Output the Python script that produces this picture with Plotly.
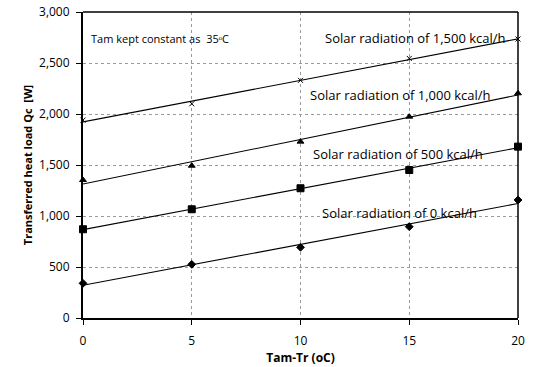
import numpy as np
import plotly.graph_objects as go

# Temperature difference Tam-Tr (oC)
temp_diff = [0, 5, 10, 15, 20]

# Transferred heat load Qc [W] for each solar radiation level
load_0 = [340, 526, 693, 895, 1157]
load_500 = [870, 1066, 1272, 1451, 1680]
load_1000 = [1353, 1493, 1729, 1974, 2203]
load_1500 = [1940, 2100, 2330, 2545, 2735]

series_names = ["Solar radiation of 0 kcal/h", "Solar radiation of 500 kcal/h",
                "Solar radiation of 1,000 kcal/h", "Solar radiation of 1,500 kcal/h"]
series_values = [load_0, load_500, load_1000, load_1500]
series_symbols = ["diamond", "square", "triangle-up", "x-thin"]
series_sizes = [6, 7, 6, 5]

y_ticks = [0, 500, 1000, 1500, 2000, 2500, 3000]
y_tick_text = ["0", "500", "1,000", "1,500", "2,000", "2,500", "3,000"]
x_ticks = [0, 5, 10, 15, 20]

FONT = "Open Sans"

fig = go.Figure()

for name, vals, sym, size in zip(series_names, series_values, series_symbols, series_sizes):
    # linear trend line through each series
    slope, intercept = np.polyfit(temp_diff, vals, 1)
    xs = np.array([temp_diff[0], temp_diff[-1]])
    fig.add_trace(go.Scatter(x=xs, y=slope * xs + intercept, mode="lines",
                             line=dict(color="black", width=1.1),
                             showlegend=False, hoverinfo="skip"))
    fig.add_trace(go.Scatter(x=temp_diff, y=vals, mode="markers", name=name,
                             marker=dict(symbol=sym, size=size, color="black",
                                         line=dict(color="black", width=1)),
                             showlegend=False, cliponaxis=False))

# series labels
label_pos = [(14.56, 1026), (14.46, 1608), (14.6, 2186), (15.3, 2745)]
for name, (lx, ly) in zip(series_names, label_pos):
    fig.add_annotation(x=lx, y=ly, text=name, showarrow=False,
                       font=dict(family=FONT, size=13, color="black"))

fig.add_annotation(x=3.54, y=2745, text="Tam kept constant as  35ᵒC", showarrow=False,
                   font=dict(family=FONT, size=11, color="black"))

fig.update_layout(
    width=533, height=367,
    margin=dict(l=83, r=15, t=12, b=49),
    paper_bgcolor="white", plot_bgcolor="white",
    font=dict(family=FONT, size=12, color="black"),
    xaxis=dict(range=[0, 20], tickvals=x_ticks, showgrid=True,
               gridcolor="#9a9a9a", griddash="dot", gridwidth=1,
               showline=True, linecolor="black", linewidth=2, mirror=False,
               ticks="outside", ticklen=5, tickcolor="black",
               ticklabelstandoff=6, automargin=False,
               zeroline=False,
               title=dict(text="<b>Tam-Tr (oC)</b>", font=dict(size=12), standoff=0)),
    yaxis=dict(range=[0, 3000], tickvals=y_ticks, ticktext=y_tick_text,
               showgrid=True, gridcolor="#9a9a9a", griddash="dot", gridwidth=1,
               showline=True, linecolor="black", linewidth=2,
               ticks="outside", ticklen=5, tickcolor="black",
               ticklabelstandoff=4, automargin=False,
               zeroline=False,
               title=dict(text="<b>Transferred heat load Qc  [W]</b>", font=dict(size=11), standoff=4)),
)

# top and right frame of the plot area
fig.add_shape(type="line", xref="paper", yref="paper", x0=0, x1=1, y0=1, y1=1,
              line=dict(color="black", width=1.5))
fig.add_shape(type="line", xref="paper", yref="paper", x0=1, x1=1, y0=0, y1=1,
              line=dict(color="black", width=1.5))

fig.write_html("out.html")
